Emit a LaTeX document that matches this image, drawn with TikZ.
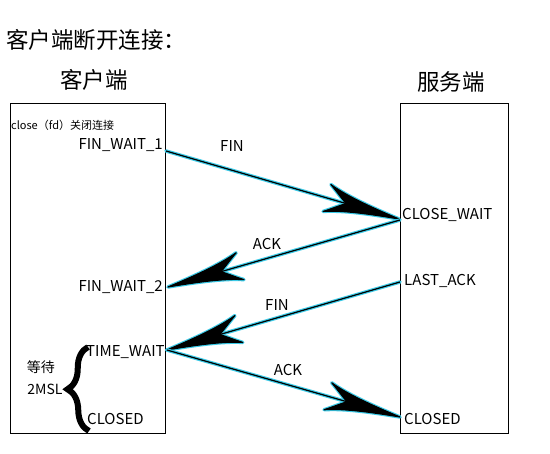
\documentclass[tikz,border=0pt]{standalone}
\usepackage{fontspec}
\setmainfont{Noto Sans CJK SC}
\usetikzlibrary{decorations.pathreplacing,calc}
\definecolor{glowc}{HTML}{3CCBE8}
\pgfdeclarearrow{
  name = Swoosh,
  setup code = {
    \pgfarrowssettipend{0pt}
    \pgfarrowssetlineend{-50pt}
    \pgfarrowssetbackend{-74pt}
    \pgfarrowssetvisualbackend{-52pt}
    \pgfarrowshullpoint{0pt}{0pt}
    \pgfarrowsupperhullpoint{-74pt}{13pt}
  },
  drawing code = {
    \pgfsetroundjoin
    \pgfpathmoveto{\pgfqpoint{0pt}{0pt}}
    \pgfpathcurveto{\pgfqpoint{-26pt}{3pt}}{\pgfqpoint{-56pt}{7pt}}{\pgfqpoint{-75pt}{14pt}}
    \pgfpathcurveto{\pgfqpoint{-66pt}{8pt}}{\pgfqpoint{-60pt}{3pt}}{\pgfqpoint{-55pt}{0pt}}
    \pgfpathcurveto{\pgfqpoint{-60pt}{-3pt}}{\pgfqpoint{-66pt}{-8pt}}{\pgfqpoint{-75pt}{-14pt}}
    \pgfpathcurveto{\pgfqpoint{-56pt}{-7pt}}{\pgfqpoint{-26pt}{-3pt}}{\pgfqpoint{0pt}{0pt}}
    \pgfpathclose
    \pgfusepathqfillstroke
  }
}
\tikzset{
  txt/.style={inner sep=0pt, font=\fontsize{15}{17}\selectfont},
  side/.style={inner sep=0pt, font=\fontsize{14}{16}\selectfont},
  small/.style={inner sep=0pt, font=\fontsize{11}{13}\selectfont},
  big/.style={inner sep=0pt, font=\fontsize{22.5}{26}\selectfont},
  panel/.style={draw=black, line width=1.4pt, inner sep=0pt},
  glowline/.style={draw=glowc, fill=glowc, line width=3.5pt, line join=round, line cap=round, -{Swoosh}},
  coreline/.style={draw=black, fill=black, line width=1.2pt, line join=round, -{Swoosh}},
}
\begin{document}
\begin{tikzpicture}[x=1pt,y=-1pt]
\useasboundingbox (0,0) rectangle (550,454);
% titles
\node[big, anchor=west] (title) at (6,40) {客户端断开连接：};
\node[big] (clientT) at (94,80) {客户端};
\node[big] (serverT) at (451,82) {服务端};
% panels
\node[panel, minimum width=155pt, minimum height=330pt, anchor=north west] (client) at (10,103) {};
\node[panel, minimum width=108pt, minimum height=330pt, anchor=north west] (server) at (400,103) {};
% client texts
\node[small, anchor=west] (closefd) at (11,125) {close（fd）关闭连接};
\node[txt, anchor=east] (fw1) at (163,145) {FIN\_WAIT\_1};
\node[txt, anchor=east] (fw2) at (163,287) {FIN\_WAIT\_2};
\node[txt, anchor=west] (tw) at (86,352) {TIME\_WAIT};
\node[txt, anchor=west] (cl1) at (87,419) {CLOSED};
\node[side] (wait) at (41,367) {等待};
\node[side] (msl) at (45,389) {2MSL};
% server texts
\node[txt, anchor=west] (cw) at (402,215) {CLOSE\_WAIT};
\node[txt, anchor=west] (la) at (404,281) {LAST\_ACK};
\node[txt, anchor=west] (cl2) at (404,419) {CLOSED};
% message labels
\node[txt] (m1) at (232,146) {FIN};
\node[txt] (m2) at (267,244) {ACK};
\node[txt] (m3) at (277,305) {FIN};
\node[txt] (m4) at (288,370) {ACK};
% brace
\draw[line width=6pt, decorate, decoration={brace, amplitude=21pt}]
  ([shift={(2,12)}]cl1.west) -- ([shift={(2,-5)}]tw.west);
% arrows
\draw[glowline] ([shift={(3,6)}]fw1.east) -- ([shift={(-3,4)}]cw.west);
\draw[coreline] ([shift={(3,6)}]fw1.east) -- ([shift={(-3,4)}]cw.west);
\draw[glowline] ([shift={(-2,5)}]cw.west) -- ([shift={(5,0)}]fw2.east);
\draw[coreline] ([shift={(-2,5)}]cw.west) -- ([shift={(5,0)}]fw2.east);
\draw[glowline] ([shift={(-4,1)}]la.west) -- ([shift={(2,-2)}]tw.east);
\draw[coreline] ([shift={(-4,1)}]la.west) -- ([shift={(2,-2)}]tw.east);
\draw[glowline] ([shift={(2,-2)}]tw.east) -- ([shift={(-4,-2)}]cl2.west);
\draw[coreline] ([shift={(2,-2)}]tw.east) -- ([shift={(-4,-2)}]cl2.west);
\end{tikzpicture}
\end{document}
